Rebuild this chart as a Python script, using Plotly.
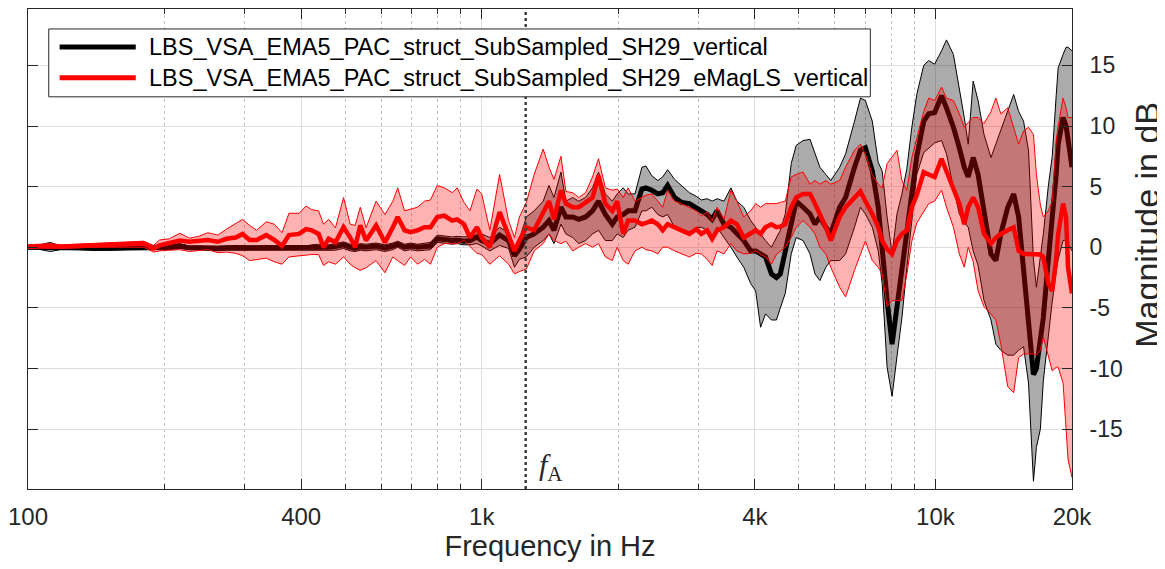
import math
import plotly.graph_objects as go

# ---------------- data ----------------
freq = [100, 105, 112, 118, 128, 140, 152, 165, 180, 189, 195, 205, 216, 227, 238, 249, 262, 274, 287, 297,
        308, 319, 335, 349, 363, 376, 396, 410, 422, 437, 448, 460, 476, 496, 513, 526, 540, 556, 585, 612,
        637, 653, 676, 697, 722, 748, 771, 798, 827, 861, 883, 914, 942, 976, 1000, 1042, 1095, 1146, 1181, 1211,
        1254, 1305, 1366, 1407, 1443, 1495, 1533, 1587, 1636, 1694, 1755, 1809, 1873, 1940, 1989, 2050, 2102, 2177, 2255, 2301,
        2371, 2444, 2506, 2569, 2661, 2756, 2869, 2972, 3047, 3140, 3220, 3302, 3420, 3542, 3650, 3781, 3916, 4016, 4118, 4222,
        4351, 4462, 4552, 4668, 4810, 4933, 5109, 5292, 5426, 5564, 5734, 5879, 6151, 6339, 6632, 6835, 7008, 7259, 7481, 7632,
        7826, 8025, 8229, 8438, 8652, 8872, 9097, 9424, 9666, 9960, 10316, 10578, 10956, 11290, 11577, 11811, 12111, 12418, 12798, 13256,
        13592, 13937, 14434, 14876, 15254, 15641, 16038, 16445, 16695, 17033, 17292, 17731, 18090, 18457, 18643, 19116, 19406, 19602, 20000]

black_mean = [0, 0, 0.05, -0.05, -0.05, -0.1, -0.1, -0.05, -0.05, -0.1, -0.05, 0.0, 0.1, -0.05, -0.05, -0.1, -0.1, -0.05, -0.05, -0.1,
              -0.1, -0.1, -0.05, -0.1, -0.1, -0.05, -0.05, -0.1, -0.05, 0.0, -0.05, 0.0, 0.05, 0.2, 0.0, -0.1, 0.05, 0.0, 0.1, -0.05,
              0.1, 0.25, 0.0, 0.1, 0.0, 0.05, 0.1, 0.7, 0.6, 0.55, 0.6, 0.5, 0.55, 0.85, 0.55, 0.3, 1.0, 0.55, -0.7, -0.15,
              0.8, 1.1, 1.65, 2.2, 1.4, 3.3, 2.5, 2.5, 2.3, 2.5, 3.0, 3.8, 2.7, 1.9, 2.5, 2.7, 3.0, 3.0, 4.8, 4.9,
              4.7, 4.4, 4.5, 5.1, 4.1, 3.7, 3.6, 3.3, 3.0, 2.7, 2.3, 3.0, 1.9, 1.65, 1.1, 0.55, -0.3, -0.3, -0.55, -0.8,
              -2.2, -2.5, -2.2, -0.3, 1.65, 3.8, 3.3, 2.75, 1.9, 2.5, 1.65, 1.1, 3.3, 4.1, 6.6, 8.0, 8.2, 6.3, 3.3, -0.55,
              -4.4, -8.0, -4.9, -1.1, 1.65, 4.4, 7.5, 10.4, 11.0, 11.1, 12.5, 11.5, 9.9, 8.2, 6.6, 5.8, 7.4, 6.0, 2.75, -0.55,
              -1.1, 1.1, 3.3, 4.4, 2.5, -1.65, -5.8, -10.5, -10.0, -7.5, -5.8, -1.1, 2.0, 6.0, 8.5, 10.7, 10.0, 8.8, 6.6]

black_lo = [-0.15, -0.15, -0.35, -0.2, -0.2, -0.25, -0.25, -0.2, -0.2, -0.25, -0.2, -0.2, -0.1, -0.2, -0.2, -0.25, -0.3, -0.25, -0.25, -0.3,
            -0.3, -0.3, -0.25, -0.3, -0.3, -0.25, -0.25, -0.3, -0.3, -0.25, -0.3, -0.3, -0.25, -0.1, -0.3, -0.35, -0.25, -0.3, -0.2, -0.35,
            -0.2, 0.0, -0.3, -0.2, -0.3, -0.25, -0.2, 0.4, 0.3, 0.25, 0.3, 0.2, 0.2, 0.3, 0.1, -0.3, 0.15, -0.1, -1.65, -1.0,
            -0.8, 0.0, 0.55, 1.1, 0.3, 1.9, 1.1, 0.8, 0.3, 0.55, 1.1, 1.4, 0.55, 0.55, 1.1, 0.8, 1.4, 1.65, 3.0, 3.0,
            3.3, 2.7, 2.5, 2.7, 1.65, 1.5, 1.1, 1.6, 1.65, 1.4, 0.8, 1.65, 0.8, 0.0, -0.8, -1.65, -3.0, -3.6, -6.6, -5.5,
            -6.0, -6.0, -5.0, -3.8, -0.55, 0.8, 0.55, -0.55, -2.2, -2.75, -1.65, -1.1, -1.1, -0.55, 1.65, 3.3, 2.75, 1.65, -0.3, -3.0,
            -9.9, -12.3, -9.0, -5.8, -1.65, 2.0, 6.0, 7.8, 8.2, 8.6, 8.8, 7.7, 4.9, 2.75, 2.0, 1.65, -0.3, -1.5, -4.4, -6.0,
            -8.0, -8.5, -8.9, -8.9, -8.5, -8.2, -11.2, -19.3, -16.5, -15.0, -11.0, -7.1, -4.5, -2.0, -1.0, 0.55, 0.6, 0.3, -0.3]

black_hi = [0.15, 0.15, 0.4, 0.1, 0.1, 0.05, 0.05, 0.1, 0.1, 0.05, 0.1, 0.2, 0.3, 0.1, 0.1, 0.05, 0.05, 0.1, 0.15, 0.1,
            0.1, 0.1, 0.15, 0.1, 0.1, 0.15, 0.15, 0.1, 0.2, 0.25, 0.2, 0.2, 0.3, 0.45, 0.25, 0.15, 0.3, 0.25, 0.35, 0.2,
            0.35, 0.5, 0.25, 0.35, 0.25, 0.3, 0.4, 1.0, 0.9, 0.85, 0.9, 0.85, 0.9, 1.5, 1.1, 0.8, 1.65, 1.2, 0.0, 0.7,
            2.5, 3.0, 3.8, 5.1, 4.1, 6.2, 3.8, 4.1, 3.8, 4.1, 4.9, 6.2, 4.4, 3.8, 4.4, 4.9, 4.4, 4.4, 6.6, 6.7,
            5.9, 5.5, 5.8, 6.4, 5.6, 5.1, 4.5, 4.2, 3.9, 4.0, 3.8, 4.0, 3.8, 4.9, 3.8, 3.3, 2.2, 1.65, 1.1, 0.55,
            0.0, 0.8, 1.4, 2.75, 6.9, 8.4, 8.8, 8.9, 7.7, 6.6, 6.0, 5.5, 6.6, 7.7, 10.4, 12.3, 12.1, 10.4, 7.0, 6.3,
            2.5, -0.55, 2.75, 4.4, 6.5, 9.9, 12.6, 15.0, 15.4, 15.1, 16.2, 17.1, 15.9, 13.2, 10.7, 8.5, 13.7, 12.1, 9.3, 7.4,
            8.5, 9.6, 11.2, 12.6, 11.2, 10.4, 8.0, -1.0, -3.3, -1.0, 1.1, 5.0, 7.5, 12.5, 14.8, 15.9, 16.5, 16.5, 16.2]

red_mean = [0.05, 0.1, 0.1, 0.05, 0.1, 0.15, 0.2, 0.25, 0.3, -0.1, 0.15, 0.35, 0.55, 0.45, 0.55, 0.6, 0.45, 0.7, 0.8, 1.1,
            0.6, 0.6, 1.0, 0.6, 0.1, 1.0, 1.1, 1.5, 1.4, 1.1, 0.0, 0.7, 0.4, 1.65, 0.8, 0.0, 1.8, 0.55, 1.8, 0.4,
            1.65, 2.5, 1.4, 1.25, 1.4, 1.65, 1.65, 2.5, 2.6, 2.2, 2.3, 1.9, 0.8, 1.65, 0.8, 0.0, 2.9, 1.0, -0.3, 0.55,
            1.65, 1.4, 2.9, 3.8, 2.3, 4.7, 3.6, 3.3, 3.3, 3.7, 4.1, 5.9, 3.6, 3.0, 3.8, 1.1, 2.2, 2.2, 1.9, 2.0,
            2.2, 1.9, 1.4, 1.9, 1.65, 1.4, 1.1, 1.5, 1.1, 1.4, 0.7, 1.4, 1.65, 2.2, 1.9, 0.8, 1.1, 1.4, 1.1, 1.65,
            1.9, 1.65, 1.7, 1.9, 3.3, 4.1, 4.4, 4.4, 3.6, 2.75, 1.65, 0.55, 2.5, 3.3, 4.1, 4.6, 3.8, 2.75, 1.65, 0.55,
            -0.15, -0.55, 0.55, 1.1, 1.4, 3.3, 4.3, 6.2, 6.0, 5.8, 7.3, 6.3, 4.9, 3.6, 1.9, 3.3, 4.1, 3.3, 1.1, 0.3,
            0.8, 1.1, 1.4, 1.65, -0.3, -0.55, -0.55, -0.55, -0.6, -0.6, -0.8, -3.0, -3.6, -1.0, 1.1, 3.6, 2.5, -1.65, -3.8]

red_lo = [-0.1, -0.05, -0.1, -0.1, -0.05, 0.0, 0.0, 0.0, 0.0, -0.4, -0.3, -0.25, -0.2, -0.35, -0.3, -0.2, -0.45, -0.4, -0.5, -0.7,
          -1.1, -1.0, -0.9, -1.2, -1.4, -0.8, -0.7, -0.6, -0.6, -0.6, -1.5, -1.2, -1.4, -0.8, -1.4, -1.7, -1.9, -1.7, -1.1, -2.1,
          -0.8, -1.1, -1.5, -0.8, -1.4, -1.0, -1.4, 0.0, 0.3, 0.3, 0.3, 0.55, 0.1, -0.5, -0.6, -1.4, -0.7, -1.4, -2.2, -2.0,
          -1.8, -0.3, 0.3, 1.1, 0.55, 0.3, 0.5, -0.3, 0.0, 0.3, 0.0, 0.3, -0.8, -1.1, 0.0, -1.1, -1.4, -0.3, 0.0, -0.2,
          -0.3, -0.55, 0.0, 0.0, -0.3, -0.55, -0.8, -0.5, -0.55, -1.0, -1.5, -0.3, -0.55, 0.3, -0.3, -0.55, -0.5, -0.3, -0.6, -0.8,
          -1.4, -0.6, -0.3, 0.0, 0.8, 1.65, 2.2, 1.65, 1.1, 0.0, -0.55, -1.65, -3.3, -4.1, -1.9, -0.55, 0.5, -1.1, -1.65, -2.2,
          -4.9, -4.4, -4.4, -4.4, -2.2, 0.5, 2.0, 3.0, 3.6, 3.8, 4.7, 3.3, 1.65, -0.55, -1.65, 0.0, -1.2, -3.6, -4.9, -5.5,
          -6.0, -8.0, -11.5, -12.0, -9.1, -8.8, -8.8, -8.8, -8.9, -8.5, -7.4, -9.0, -10.2, -9.9, -9.9, -11.2, -15.4, -17.5, -19.0]

red_hi = [0.2, 0.25, 0.3, 0.2, 0.25, 0.3, 0.35, 0.45, 0.5, 0.15, 0.6, 0.7, 1.15, 0.75, 0.9, 1.2, 1.0, 1.5, 2.0, 2.3,
          1.8, 1.4, 2.1, 1.9, 1.2, 2.8, 2.8, 3.4, 3.1, 3.0, 1.9, 2.3, 1.6, 4.1, 1.9, 1.8, 3.3, 1.6, 3.8, 2.7,
          3.8, 4.9, 3.0, 3.15, 3.3, 3.8, 3.9, 5.1, 4.9, 4.5, 4.9, 3.7, 3.0, 4.8, 4.4, 1.4, 6.0, 2.2, 0.8, 2.5,
          3.7, 6.0, 8.1, 6.6, 5.6, 7.5, 4.6, 4.5, 4.1, 4.5, 5.8, 7.3, 4.9, 4.7, 4.8, 4.1, 4.9, 3.8, 4.1, 4.3,
          4.4, 3.8, 3.3, 4.7, 3.8, 3.6, 3.3, 3.0, 2.6, 2.9, 2.2, 3.3, 2.3, 4.7, 3.8, 2.5, 3.0, 3.6, 3.3, 3.6,
          3.6, 3.6, 3.7, 3.8, 5.8, 6.0, 6.2, 5.2, 5.5, 5.2, 5.5, 5.2, 5.5, 6.6, 8.0, 8.5, 7.7, 6.0, 5.2, 4.9,
          6.9, 7.5, 8.0, 5.5, 4.7, 7.4, 9.0, 11.2, 12.3, 12.1, 13.2, 12.3, 12.1, 11.0, 9.9, 10.3, 10.7, 10.7, 10.2, 11.2,
          12.3, 11.0, 11.5, 9.9, 8.5, 9.6, 9.9, 9.3, 6.0, 3.5, 2.5, 3.0, 3.8, 8.8, 10.0, 12.3, 11.5, 10.7, 10.7]

x_tickvals = [100, 400, 1000, 4000, 10000, 20000]
x_ticktext = ["100", "400", "1k", "4k", "10k", "20k"]
x_minorvals = [200, 300, 500, 600, 700, 800, 900, 2000, 3000, 5000, 6000, 7000, 8000, 9000]
y_tickvals = [-15, -10, -5, 0, 5, 10, 15]
y_range = [-19.94, 19.65]
f_A = 1250
legend_labels = ["LBS_VSA_EMA5_PAC_struct_SubSampled_SH29_vertical",
                 "LBS_VSA_EMA5_PAC_struct_SubSampled_SH29_eMagLS_vertical"]
x_title = "Frequency in Hz"
y_title = "Magnitude in dB"

# ---------------- styling ----------------
FONT = "Liberation Sans, Arial, Helvetica, sans-serif"
AXC = "#262626"
OFF = 8                      # default page body margin
W, H = 1165 - OFF, 569 - OFF
ML, MR, MT, MB = 8, 93, 0, 80
PW, PH = W - ML - MR, H - MT - MB


def px_x(p):
    """page x pixel -> paper coordinate"""
    return (p - OFF - ML) / PW


def px_y(p):
    """page y pixel -> paper coordinate"""
    return (H - MB - (p - OFF)) / PH


fig = go.Figure()

# black band
fig.add_trace(go.Scatter(x=freq, y=black_lo, mode="lines", line=dict(color="black", width=1),
                         showlegend=False, hoverinfo="skip"))
fig.add_trace(go.Scatter(x=freq, y=black_hi, mode="lines", line=dict(color="black", width=1),
                         fill="tonexty", fillcolor="rgba(0,0,0,0.33)", showlegend=False, hoverinfo="skip"))
fig.add_trace(go.Scatter(x=freq, y=black_mean, mode="lines", line=dict(color="black", width=5),
                         name=legend_labels[0], showlegend=False))
# red band
fig.add_trace(go.Scatter(x=freq, y=red_lo, mode="lines", line=dict(color="red", width=1),
                         showlegend=False, hoverinfo="skip"))
fig.add_trace(go.Scatter(x=freq, y=red_hi, mode="lines", line=dict(color="red", width=1),
                         fill="tonexty", fillcolor="rgba(255,0,0,0.3)", showlegend=False, hoverinfo="skip"))
fig.add_trace(go.Scatter(x=freq, y=red_mean, mode="lines", line=dict(color="red", width=4.5),
                         name=legend_labels[1], showlegend=False))

# f_A marker line
fig.add_trace(go.Scatter(x=[f_A, f_A], y=y_range, mode="lines",
                         line=dict(color="#404040", width=2.5, dash="dot"), showlegend=False, hoverinfo="skip"))

# manual legend (MATLAB style)
shapes = [dict(type="rect", xref="paper", yref="paper", x0=px_x(37), x1=px_x(868), y0=px_y(96), y1=px_y(28),
               line=dict(color=AXC, width=1), fillcolor="white", layer="above")]
annotations = []
rows = [(46, "black", 5, legend_labels[0]), (77, "red", 5, legend_labels[1])]
for ypx, col, lw, lab in rows:
    shapes.append(dict(type="line", xref="paper", yref="paper", x0=px_x(48), x1=px_x(125), y0=px_y(ypx), y1=px_y(ypx),
                       line=dict(color=col, width=lw), layer="above"))
    annotations.append(dict(xref="paper", yref="paper", x=px_x(136), y=px_y(ypx), text=lab, showarrow=False,
                            xanchor="left", yanchor="middle", font=dict(family=FONT, size=23.5, color="black")))

# f_A label (annotation on log axis uses log10 position)
annotations.append(dict(xref="x", yref="y", x=math.log10(f_A), y=-18.1, text="<i>f</i><sub>A</sub>",
                        showarrow=False, xanchor="left", yanchor="middle", xshift=11,
                        font=dict(family="Liberation Serif, DejaVu Serif, serif", size=30, color="#262626")))

# y-axis label (rotated, MATLAB position)
annotations.append(dict(xref="paper", yref="paper", x=px_x(1147), y=px_y(224), text=y_title, textangle=-90,
                        showarrow=False, xanchor="center", yanchor="middle",
                        font=dict(family=FONT, size=34, color=AXC)))

fig.update_layout(
    width=W, height=H,
    margin=dict(l=ML, r=MR, t=MT, b=MB),
    paper_bgcolor="white", plot_bgcolor="white",
    shapes=shapes, annotations=annotations,
    showlegend=False,
)

fig.update_xaxes(
    type="log", range=[math.log10(100), math.log10(20000)],
    tickvals=x_tickvals, ticktext=x_ticktext,
    ticks="inside", ticklen=10, tickcolor=AXC, tickwidth=1,
    showline=True, linecolor=AXC, linewidth=1, mirror="allticks",
    showgrid=True, gridcolor="rgb(222,222,222)", gridwidth=1, zeroline=False,
    minor=dict(tickvals=x_minorvals, ticks="inside", ticklen=5, tickcolor=AXC,
               showgrid=True, gridcolor="rgb(195,195,195)", griddash="dot", gridwidth=1),
    tickfont=dict(family=FONT, size=24, color=AXC),
    ticklabelstandoff=6, ticklabeloverflow="allow",
    title=dict(text=x_title, font=dict(family=FONT, size=29, color=AXC), standoff=4),
)
fig.update_yaxes(
    range=y_range, side="right",
    tickvals=y_tickvals, ticktext=[str(v) for v in y_tickvals],
    ticks="inside", ticklen=10, tickcolor=AXC, tickwidth=1,
    showline=True, linecolor=AXC, linewidth=1, mirror="allticks",
    showgrid=True, gridcolor="rgb(222,222,222)", gridwidth=1, zeroline=False,
    tickfont=dict(family=FONT, size=23, color=AXC),
    ticklabelstandoff=12, ticklabeloverflow="allow",
)

fig.write_html("out.html")
